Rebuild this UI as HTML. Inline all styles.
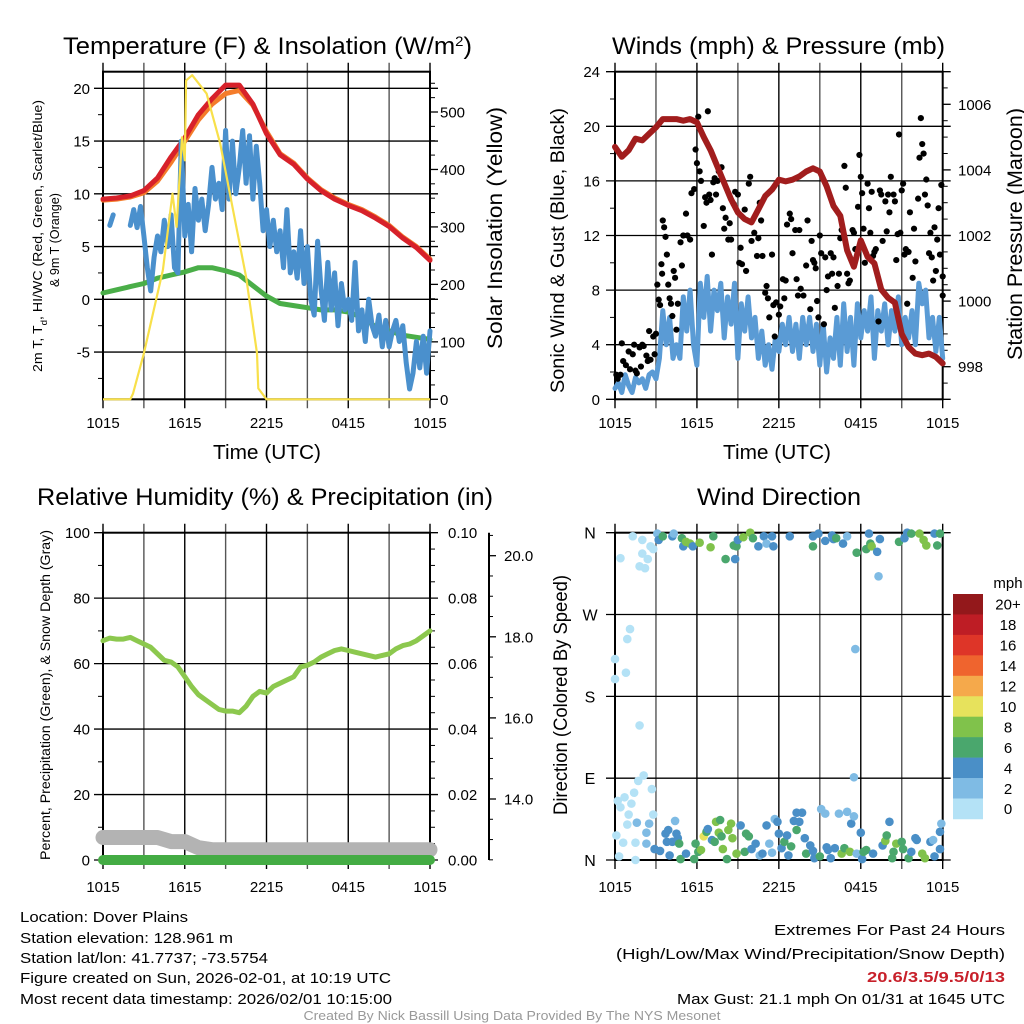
<!DOCTYPE html>
<html><head><meta charset="utf-8"><title>Dover Plains Meteogram</title>
<style>
html,body{margin:0;padding:0;background:#fff;}
svg{display:block;font-family:"Liberation Sans",Arial,sans-serif;}
</style></head>
<body>
<svg id="fig" width="1024" height="1024" viewBox="0 0 1024 1024" xmlns="http://www.w3.org/2000/svg">
<rect x="0" y="0" width="1024" height="1024" fill="#fff"/>
<text x="63" y="54" font-size="24" textLength="409" lengthAdjust="spacingAndGlyphs">Temperature (F) &amp; Insolation (W/m<tspan baseline-shift="super" font-size="14">2</tspan>)</text>
<text x="612" y="54" font-size="24" textLength="333" lengthAdjust="spacingAndGlyphs">Winds (mph) &amp; Pressure (mb)</text>
<text x="37" y="505" font-size="24" textLength="456" lengthAdjust="spacingAndGlyphs">Relative Humidity (%) &amp; Precipitation (in)</text>
<text x="697" y="505" font-size="24" textLength="164" lengthAdjust="spacingAndGlyphs">Wind Direction</text>
<text x="213" y="459" font-size="20" textLength="108" lengthAdjust="spacingAndGlyphs">Time (UTC)</text>
<text x="723" y="459" font-size="20" textLength="108" lengthAdjust="spacingAndGlyphs">Time (UTC)</text>
<text transform="translate(42,372) rotate(-90)" font-size="13" textLength="272" lengthAdjust="spacingAndGlyphs">2m T, T<tspan baseline-shift="sub" font-size="9">d</tspan>, HI/WC (Red, Green, Scarlet/Blue)</text>
<text transform="translate(59,287) rotate(-90)" font-size="13" textLength="94" lengthAdjust="spacingAndGlyphs">&amp; 9m T (Orange)</text>
<text transform="translate(502,349) rotate(-90)" font-size="21" textLength="242" lengthAdjust="spacingAndGlyphs">Solar Insolation (Yellow)</text>
<text transform="translate(564,393) rotate(-90)" font-size="19" textLength="285" lengthAdjust="spacingAndGlyphs">Sonic Wind &amp; Gust (Blue, Black)</text>
<text transform="translate(1022,360) rotate(-90)" font-size="21" textLength="252" lengthAdjust="spacingAndGlyphs">Station Pressure (Maroon)</text>
<text transform="translate(50,860) rotate(-90)" font-size="13.5" textLength="330" lengthAdjust="spacingAndGlyphs">Percent, Precipitation (Green), &amp; Snow Depth (Gray)</text>
<text transform="translate(567,815) rotate(-90)" font-size="19" textLength="240" lengthAdjust="spacingAndGlyphs">Direction (Colored By Speed)</text>
<g font-size="15">
<text x="20" y="922" textLength="168" lengthAdjust="spacingAndGlyphs">Location: Dover Plains</text>
<text x="20" y="943" textLength="213" lengthAdjust="spacingAndGlyphs">Station elevation: 128.961 m</text>
<text x="20" y="963" textLength="248" lengthAdjust="spacingAndGlyphs">Station lat/lon: 41.7737; -73.5754</text>
<text x="20" y="983" textLength="371" lengthAdjust="spacingAndGlyphs">Figure created on Sun, 2026-02-01, at 10:19 UTC</text>
<text x="20" y="1004" textLength="372" lengthAdjust="spacingAndGlyphs">Most recent data timestamp: 2026/02/01 10:15:00</text>
</g>
<g font-size="15" text-anchor="end">
<text x="1005" y="935" textLength="231" lengthAdjust="spacingAndGlyphs">Extremes For Past 24 Hours</text>
<text x="1005" y="959" textLength="389" lengthAdjust="spacingAndGlyphs">(High/Low/Max Wind/Precipitation/Snow Depth)</text>
<text x="1005" y="982" font-weight="bold" fill="#c8202a" textLength="138" lengthAdjust="spacingAndGlyphs">20.6/3.5/9.5/0/13</text>
<text x="1005" y="1004" textLength="328" lengthAdjust="spacingAndGlyphs">Max Gust: 21.1 mph On 01/31 at 1645 UTC</text>
</g>
<text x="512" y="1020" font-size="13" fill="#999" text-anchor="middle" textLength="417" lengthAdjust="spacingAndGlyphs">Created By Nick Bassill Using Data Provided By The NYS Mesonet</text>
<g id="layer"></g>
</svg>
<script>
// ---------- DATA ----------
const hourCats = [0,1,2,3,4,5,6,7,8,9,10,11,12,13,14,15,16,17,18,19,20,21,22,23,24];
const temp2m = [9.5,9.6,9.8,10.3,11.5,13.5,15.3,17.5,19.0,20.3,20.3,18.5,15.7,13.7,12.8,11.4,10.3,9.5,8.9,8.4,7.7,6.9,5.8,4.9,3.7];
const temp9m = [9.4,9.5,9.7,10.1,11.2,13.0,15.0,17.0,18.5,19.5,19.8,18.4,15.9,13.8,12.9,11.5,10.4,9.6,9.0,8.5,7.8,7.0,5.9,5.0,3.8];
const dewpt = [0.6,0.9,1.2,1.5,2.0,2.3,2.6,3.0,3.0,2.7,2.3,1.3,0.3,-0.4,-0.6,-0.8,-1.0,-1.0,-1.2,-1.7,-2.6,-3.0,-3.4,-3.6,-3.8];
const halfHourCats = [0,0.5,1,1.5,2,2.5,3,3.5,4,4.5,5,5.5,6,6.5,7,7.5,8,8.5,9,9.5,10,10.5,11,11.5,12,12.5,13,13.5,14,14.5,15,15.5,16,16.5,17,17.5,18,18.5,19,19.5,20,20.5,21,21.5,22,22.5,23,23.5,24];
const quarterHourCats = [0,0.25,0.5,0.75,1,1.25,1.5,1.75,2,2.25,2.5,2.75,3,3.25,3.5,3.75,4,4.25,4.5,4.75,5,5.25,5.5,5.75,6,6.25,6.5,6.75,7,7.25,7.5,7.75,8,8.25,8.5,8.75,9,9.25,9.5,9.75,10,10.25,10.5,10.75,11,11.25,11.5,11.75,12,12.25,12.5,12.75,13,13.25,13.5,13.75,14,14.25,14.5,14.75,15,15.25,15.5,15.75,16,16.25,16.5,16.75,17,17.25,17.5,17.75,18,18.25,18.5,18.75,19,19.25,19.5,19.75,20,20.25,20.5,20.75,21,21.25,21.5,21.75,22,22.25,22.5,22.75,23,23.25,23.5,23.75,24];
const windChill = [null,null,7.0,8.0,null,null,null,null,7.0,8.5,6.8,8.8,6.0,3.0,0.8,4.0,6.0,4.5,7.5,5.0,8.0,3.0,2.5,15.0,6.0,9.0,4.5,10.5,7.5,9.5,6.5,9.0,12.5,9.5,11.0,8.5,16.0,9.5,15.0,10.0,12.5,16.0,11.0,15.5,9.5,14.5,11.0,6.5,8.5,5.0,7.5,4.5,6.5,3.0,8.5,2.5,4.5,2.0,6.5,1.5,5.0,0.0,-1.5,5.5,1.0,-2.0,3.5,-1.0,2.5,-2.5,1.5,-1.0,0.0,-2.0,3.5,-3.0,-1.0,-4.0,0.0,-2.5,-3.5,-1.5,-4.5,-2.0,-4.5,-3.0,-2.0,-4.0,-2.5,-6.0,-8.5,-7.0,-4.0,-6.5,-3.5,-7.0,-3.0];
const insolTimes = [0,2.0,2.2,3,4.4,5.1,5.4,5.8,6.0,6.1,6.55,7.6,8.6,9.55,10.5,11.3,11.4,12,24];
const insolValues = [0,0,10,80,225,358,300,456,416,555,564,532,445,329,213,80,19,0,0];
const pressure = [1004.7,1004.4,1004.6,1004.95,1004.9,1005.1,1005.3,1005.55,1005.55,1005.55,1005.5,1005.55,1005.45,1005.0,1004.6,1004.1,1003.6,1003.1,1002.7,1002.5,1002.4,1002.8,1003.2,1003.4,1003.7,1003.65,1003.7,1003.8,1003.95,1004.05,1003.95,1003.5,1002.9,1002.6,1001.55,1001.05,1001.85,1001.35,1001.15,1000.35,1000.1,999.95,999.0,998.6,998.4,998.35,998.4,998.3,998.1];
const windSpeed = [0.8,1.2,0.5,1.8,1.0,0.5,1.6,1.2,1.5,0.8,1.8,2.0,1.5,3.0,6.5,4.0,6.0,3.0,4.0,3.0,7.5,5.0,8.0,4.0,2.5,8.5,6.0,9.0,5.0,8.0,6.5,8.5,4.5,7.5,5.5,8.5,3.0,7.0,5.0,7.5,4.5,6.0,3.0,5.0,2.5,4.0,2.2,4.5,3.5,5.5,4.0,6.0,3.5,5.5,3.0,6.0,4.0,6.0,3.5,5.5,2.5,5.5,2.0,4.5,3.0,6.0,2.5,7.0,3.5,6.0,2.5,7.0,4.5,6.5,5.0,7.5,3.0,6.5,5.0,7.0,4.0,6.5,5.0,7.5,4.0,6.0,4.5,6.5,4.0,8.5,7.0,8.0,4.5,6.0,3.5,6.0,3.0];
const gustTimes = [0.1,0.2,0.4,0.5,0.6,0.8,1.0,1.1,1.3,1.4,1.5,1.6,1.8,1.9,2.0,2.1,2.3,2.4,2.5,2.6,2.8,2.9,3.0,3.1,3.2,3.3,3.4,3.45,3.5,3.6,3.7,3.8,3.9,4.0,4.1,4.2,4.3,4.4,4.5,4.6,4.8,4.9,5.0,5.2,5.3,5.5,5.6,5.8,5.9,6.0,6.1,6.2,6.3,6.5,6.6,6.7,6.8,6.9,7.0,7.1,7.2,7.3,7.4,7.5,7.6,7.8,7.9,8.0,8.1,8.3,8.4,8.5,8.7,8.8,9.0,9.1,9.2,9.3,9.5,9.6,9.8,9.9,10.0,10.2,10.4,10.5,10.6,10.7,10.8,11.0,11.1,11.2,11.3,11.5,11.6,11.7,11.8,12.0,12.1,12.3,12.4,12.5,12.6,12.8,12.9,13.0,13.2,13.3,13.4,13.5,13.6,13.8,14.0,14.1,14.3,14.4,14.5,14.6,14.7,14.8,14.9,15.0,15.1,15.3,15.4,15.5,15.6,15.8,15.9,16.0,16.1,16.3,16.4,16.5,16.6,16.8,16.9,17.0,17.1,17.2,17.4,17.5,17.6,17.8,17.9,18.0,18.1,18.2,18.3,18.5,18.6,18.7,18.8,18.9,19.0,19.1,19.3,19.4,19.5,19.6,19.8,19.9,20.0,20.1,20.2,20.4,20.5,20.6,20.7,20.8,20.9,21.0,21.1,21.2,21.3,21.4,21.5,21.6,21.8,21.9,22.0,22.2,22.3,22.4,22.5,22.6,22.7,22.8,22.9,23.0,23.1,23.2,23.3,23.4,23.5,23.6,23.7,23.8,23.9,24.0,24.0];
const gustValues = [1.8,1.5,1.8,4.1,2.8,2.5,3.5,2.2,3.3,4.0,2.1,1.9,3.8,2.4,4.0,3.9,3.2,2.8,5.0,2.9,4.6,3.3,4.8,8.4,7.3,6.9,9.9,9.2,13.1,12.6,11.9,10.6,8.4,7.4,7.0,6.1,9.4,8.9,5.1,7.0,11.5,9.8,12.0,13.6,12.0,11.7,15.1,15.4,18.3,17.3,20.7,16.7,16.0,12.7,14.8,14.4,21.1,15.0,14.6,10.6,15.9,16.2,15.0,16.0,16.7,17.0,14.0,12.5,13.3,11.7,12.9,11.7,14.3,15.2,15.0,10.0,11.1,9.9,13.9,9.4,15.8,16.3,11.6,12.2,10.5,11.8,14.4,13.1,10.5,7.8,8.3,7.4,6.0,10.6,6.9,4.6,7.1,6.2,6.8,8.8,7.4,8.7,12.8,13.6,13.2,10.7,12.4,8.8,7.6,12.4,8.1,7.6,9.8,13.1,6.6,11.6,10.2,10.0,9.6,7.2,6.0,12.0,10.7,5.5,10.4,8.0,9.0,10.7,9.2,10.4,6.7,8.3,9.2,11.8,12.4,17.1,15.5,9.2,8.5,8.7,12.4,12.2,11.0,14.1,17.9,16.3,15.1,12.5,10.0,15.8,14.0,12.2,15.2,10.5,10.8,11.0,5.7,15.3,15.0,11.6,14.5,12.3,15.0,13.7,16.3,15.0,14.5,10.2,12.1,19.4,12.2,15.3,15.8,10.6,11.0,7.0,10.8,13.7,8.9,12.5,10.1,14.7,17.7,20.6,18.7,18.0,15.0,16.1,14.2,10.7,12.2,10.4,8.7,12.6,9.4,11.7,14.0,10.6,15.7,9.0,7.6];
const relHum = [67,67.8,67.5,67.5,68,67,66,65,63,61,60.5,59,56,53,50.5,49,47.5,46,45.5,45.5,45,47,50,51.5,51,53,54,55,56,59,59.5,60.5,62,63,64,64.5,64,63.5,63,62.5,62,62.5,63,64.5,65.5,66,67,68.5,70];
const snowDepth = [13.05,13.05,13.05,13.05,13.05,12.95,12.95,12.8,12.75,12.75,12.75,12.75,12.75,12.75,12.75,12.75,12.75,12.75,12.75,12.75,12.75,12.75,12.75,12.75,12.75];
const precip = [0,0,0,0,0,0,0,0,0,0,0,0,0,0,0,0,0,0,0,0,0,0,0,0,0];
const dirTimes = [1.3,2.0,0.4,2.0,1.8,2.2,2.4,2.6,2.8,0.0,0.0,0.8,0.9,1.1,1.8,2.1,1.7,2.7,0.2,0.7,1.2,1.4,0.4,1.0,1.6,2.5,2.8,0.9,2.3,0.1,0.6,1.5,2.3,0.3,1.5,
3.1,3.2,3.5,4.2,4.3,4.9,5.0,5.2,5.5,5.7,6.2,7.0,7.2,8.1,8.8,8.7,8.9,9.0,9.4,9.9,10.1,10.5,10.9,11.1,11.5,11.6,12.8,14.5,14.5,14.9,15.4,15.9,16.0,16.2,16.7,17.0,17.7,18.4,18.6,18.7,18.8,19.2,19.3,19.4,20.8,21.2,21.4,21.7,22.3,22.6,22.8,23.4,23.6,23.8,
17.6,17.5,
2.9,3.3,3.7,3.9,3.8,4.2,4.4,4.5,4.6,4.7,4.0,4.8,5.2,5.8,5.9,6.1,6.3,6.5,6.7,6.8,7.1,7.3,7.4,7.7,7.6,7.8,7.9,8.2,8.3,8.5,8.6,8.9,9.2,9.5,9.6,9.8,10.0,10.3,10.6,10.8,11.1,11.3,11.5,11.7,11.9,12.0,12.2,12.4,12.6,12.7,12.9,13.1,13.3,13.3,13.5,13.7,13.9,14.0,14.3,14.5,14.6,15.0,15.1,15.4,15.5,15.6,15.8,16.1,16.4,16.6,16.8,17.0,17.2,17.3,17.5,17.7,18.0,18.1,18.2,18.4,18.9,19.6,19.8,19.9,20.1,20.3,20.4,20.6,21.0,21.1,21.5,21.7,22.0,22.1,22.5,22.7,23.1,23.3,23.4,23.8,23.8,23.9];
const dirDegrees = [356,352,332,337,323,321,331,345,342,221,199,206,243,254,148,93,87,78,65,69,62,74,58,50,41,40,50,39,30,27,19,19,18,4,0,
359,352,356,356,359,354,345,350,348,345,349,344,356,331,331,346,345,352,355,360,354,345,356,348,356,345,356,345,356,359,351,357,353,354,348,356,338,342,359,348,345,339,312,353,350,354,360,359,359,352,346,359,346,359,
232,91,
12,10,29,33,20,20,43,29,24,18,5,1,7,1,18,9,11,26,31,34,22,20,42,44,30,26,12,1,33,40,24,7,38,9,29,26,12,18,5,7,38,18,8,45,42,29,13,20,27,5,15,43,52,33,42,52,24,7,16,10,2,4,56,51,14,11,2,13,51,7,13,53,9,40,48,7,30,1,9,11,7,16,21,27,42,2,9,18,20,12,2,9,24,22,7,2,20,22,4,12,31,40];
const dirSpeeds = [1,1,1,1,1,1,1,1,1,1,1,1,1,1,1,1,1,1,1,1,1,1,1,1,3,3,1,1,3,1,1,1,3,1,1,
3,5,7,5,3,7,5,9,9,5,9,9,7,7,5,7,7,5,9,9,7,5,5,3,5,5,5,7,5,5,5,5,5,7,5,3,7,7,5,7,9,5,3,5,7,5,5,7,9,9,9,5,7,7,
3,3,
5,5,5,5,5,5,3,5,5,7,5,7,5,7,7,7,9,11,7,5,5,7,9,7,9,7,9,7,9,9,9,9,5,7,7,7,5,5,3,5,5,3,3,3,5,5,5,7,5,5,7,5,5,7,5,5,5,7,5,5,5,7,3,3,5,5,5,5,3,9,7,3,9,5,3,3,5,5,7,7,5,5,9,7,5,7,7,9,7,7,7,5,5,5,9,9,5,3,5,5,5,3];
const cbLabels = ['0','2','4','6','8','10','12','14','16','18','20+'];
const cbColors = ['#b4e2f6','#7fbbe4','#4a8fc7','#4aa76d','#80c24b','#e7e25c','#f5a94b','#ef642e','#de3528','#be1d25','#93181b'];
const timeTickLabels = ['1015','1615','2215','0415','1015'];
const tempTicks = [-5,0,5,10,15,20];
const insolTicks = [0,100,200,300,400,500];
const windTicks = [0,4,8,12,16,20,24];
const presTicks = [998,1000,1002,1004,1006];
const rhTicks = [0,20,40,60,80,100];
const precTickLabels = ['0.00','0.02','0.04','0.06','0.08','0.10'];
const snowTicks = [14,16,18,20];
const dirTicks = [0,90,180,270,360];
const dirTickLabels = ['N','E','S','W','N'];

// ---------- GEOMETRY ----------
const NS='http://www.w3.org/2000/svg';
const layer=document.getElementById('layer');
function mk(tag,attrs,parent){const e=document.createElementNS(NS,tag);for(const k in attrs)e.setAttribute(k,attrs[k]);(parent||layer).appendChild(e);return e;}
const L={x0:103,x1:430}, R={x0:615,x1:942.7};
const yTop=71.7,yBot=399.3,yTop2=532.7,yBot2=860;
const xL=h=>L.x0+h/24*(L.x1-L.x0);
const xR=h=>R.x0+h/24*(R.x1-R.x0);
const yTemp=v=>299.3-v*10.55;
const yIns=w=>yBot-w*0.5746;
const yWind=v=>yBot-v*(yBot-yTop)/24;
const yPres=p=>366.7-(p-998)*32.8;
const yRH=v=>yBot2-v*(yBot2-yTop2)/100;
const yPrec=v=>yBot2-v*(yBot2-yTop2)/0.1;
const ySnow=v=>555.7+(20-v)*40.55;
const yDir=d=>yBot2-d/360*(yBot2-yTop2);

function linePath(xs,ys,xf,yf){let d='',pen=false;for(let i=0;i<xs.length;i++){if(ys[i]===null||ys[i]===undefined){pen=false;continue;}const X=xf(xs[i]).toFixed(1),Y=yf(ys[i]).toFixed(1);if(!pen){d+='M'+X+' '+Y+' L'+X+' '+Y+' ';pen=true;}else d+='L'+X+' '+Y+' ';}return d;}

function frame(x0,x1,t,b,name){
  const g=mk('g',{});
  
  
  for(let i=0;i<=8;i++){const x=x0+i*(x1-x0)/8;
    const ln=mk('line',{x1:x,x2:x,y1:t-9,y2:b+9,stroke:(i%2?'#555':'#000'),'stroke-width':1.4},g);
    
    
  }
  return g;
}
function hgrid(g,x0,x1,y){const ln=mk('line',{x1:x0-9,x2:x1+8,y1:y,y2:y,stroke:'#000','stroke-width':1.3},g);
  
  }
function label(txt,x,y,anchor,size,name){const t=mk('text',{x:x,y:y,'text-anchor':anchor,'font-size':size||15,fill:'#000'});t.textContent=txt;
  
  return t;}
function minor(x,y,len){mk('line',{x1:x,x2:x+len,y1:y,y2:y,stroke:'#000','stroke-width':1});}
function xLabels(x0,x1,y,name){for(let i=0;i<timeTickLabels.length;i++){label(timeTickLabels[i],x0+i*(x1-x0)/4,y,'middle',15,name);}}

// ===== Panel 1: temperature =====
const g1=frame(L.x0,L.x1,yTop,yBot,'temperature');
tempTicks.forEach(v=>{hgrid(g1,L.x0,L.x1,yTemp(v));label(String(v),90,yTemp(v)+5.5,'end',15,'temp-tick-label');});
for(let v=-7.5;v<=20;v+=5){minor(L.x0-5,yTemp(v),5);}
insolTicks.forEach(w=>{mk('line',{x1:L.x1,x2:L.x1+8,y1:yIns(w),y2:yIns(w),stroke:'#000','stroke-width':1.3});label(String(w),440,yIns(w)+5.5,'start',15,'insolation-tick-label');});
for(let w=25;w<=560;w+=25){if(w%100)minor(L.x1,yIns(w),5);}
mk('rect',{x:L.x0,y:yTop,width:L.x1-L.x0,height:yBot-yTop,fill:'none',stroke:'#000','stroke-width':2});
xLabels(L.x0,L.x1,428,'temp-x-tick-label');
let p;
p=mk('path',{d:linePath(hourCats,temp9m,xL,yTemp),fill:'none',stroke:'#f47c2b','stroke-width':5,'stroke-linecap':'round','stroke-linejoin':'round'});


p=mk('path',{d:linePath(hourCats,temp2m,xL,yTemp),fill:'none',stroke:'#d7212a','stroke-width':5,'stroke-linecap':'round','stroke-linejoin':'round'});


p=mk('path',{d:linePath(hourCats,dewpt,xL,yTemp),fill:'none',stroke:'#4aae48','stroke-width':5,'stroke-linecap':'round','stroke-linejoin':'round'});


p=mk('path',{d:linePath(quarterHourCats,windChill,xL,yTemp),fill:'none',stroke:'#4a90cd','stroke-width':5,'stroke-linecap':'round','stroke-linejoin':'round'});


p=mk('path',{d:linePath(insolTimes,insolValues,xL,yIns),fill:'none',stroke:'#f8e04a','stroke-width':2.2,'stroke-linejoin':'round'});



// ===== Panel 2: winds =====
const g2=frame(R.x0,R.x1,yTop,yBot,'winds');
windTicks.forEach(v=>{hgrid(g2,R.x0,R.x1,yWind(v));label(String(v),600,yWind(v)+5.5,'end',15,'wind-tick-label');});
for(let v=2;v<24;v+=4){minor(R.x0-5,yWind(v),5);}
presTicks.forEach(v=>{mk('line',{x1:R.x1,x2:R.x1+8,y1:yPres(v),y2:yPres(v),stroke:'#000','stroke-width':1.3});label(String(v),958,yPres(v)+5.5,'start',15,'pressure-tick-label');});
for(let v=997.5;v<=1006.8;v+=0.5){if(Math.abs(v%2)>0.01)minor(R.x1,yPres(v),5);}
mk('rect',{x:R.x0,y:yTop,width:R.x1-R.x0,height:yBot-yTop,fill:'none',stroke:'#000','stroke-width':2});
xLabels(R.x0,R.x1,428,'wind-x-tick-label');
p=mk('path',{d:linePath(quarterHourCats,windSpeed,xR,yWind),fill:'none',stroke:'#5a9bd5','stroke-width':5,'stroke-linecap':'round','stroke-linejoin':'round'});


gustTimes.forEach((h,i)=>{const c=mk('circle',{cx:xR(h),cy:yWind(gustValues[i]),r:3.1,fill:'#000'});
  
  });
p=mk('path',{d:linePath(halfHourCats,pressure,xR,yPres),fill:'none',stroke:'#a11d1d','stroke-width':6,'stroke-linecap':'round','stroke-linejoin':'round'});



// ===== Panel 3: RH =====
const g3=frame(L.x0,L.x1,yTop2,yBot2,'humidity');
rhTicks.forEach((v,i)=>{hgrid(g3,L.x0,L.x1,yRH(v));label(String(v),90,yRH(v)+5.5,'end',15,'rh-tick-label');label(precTickLabels[i],448,yRH(v)+5.5,'start',15,'precip-tick-label');});
for(let v=10;v<100;v+=20){minor(L.x0-5,yRH(v),5);}
for(let v=5;v<100;v+=5){if(v%20)minor(L.x1,yRH(v),5);}
mk('rect',{x:L.x0,y:yTop2,width:L.x1-L.x0,height:yBot2-yTop2,fill:'none',stroke:'#000','stroke-width':2});
const sa=mk('line',{x1:489,x2:489,y1:yTop2,y2:yBot2,stroke:'#000','stroke-width':2});


snowTicks.forEach(v=>{mk('line',{x1:489,x2:496,y1:ySnow(v),y2:ySnow(v),stroke:'#000','stroke-width':1.3});label(v.toFixed(1),504,ySnow(v)+5.5,'start',15,'snow-tick-label');});
for(let v=12.5;v<=20.5;v+=0.5){if(v%2)minor(489,ySnow(v),4);}
xLabels(L.x0,L.x1,892,'rh-x-tick-label');
p=mk('path',{d:linePath(hourCats,snowDepth,xL,ySnow),fill:'none',stroke:'#b3b3b3','stroke-width':15,'stroke-linecap':'round','stroke-linejoin':'round'});


p=mk('path',{d:linePath(hourCats,precip,xL,yPrec),fill:'none',stroke:'#44ac44','stroke-width':10,'stroke-linecap':'round'});


p=mk('path',{d:linePath(halfHourCats,relHum,xL,yRH),fill:'none',stroke:'#8cc84e','stroke-width':5,'stroke-linecap':'round','stroke-linejoin':'round'});



// ===== Panel 4: wind direction =====
const g4=frame(R.x0,R.x1,yTop2,yBot2,'direction');
dirTicks.forEach((d,i)=>{hgrid(g4,R.x0,R.x1,yDir(d));label(dirTickLabels[i],590,yDir(d)+6,'middle',16,'direction-tick-label');});
mk('rect',{x:R.x0,y:yTop2,width:R.x1-R.x0,height:yBot2-yTop2,fill:'none',stroke:'#000','stroke-width':2});
xLabels(R.x0,R.x1,892,'direction-x-tick-label');
dirTimes.forEach((h,i)=>{const s=dirSpeeds[i];const idx=Math.min(10,Math.floor(s/2));
  const c=mk('circle',{cx:xR(h),cy:yDir(dirDegrees[i]),r:4.3,fill:cbColors[idx]});
  
  });
const cbTop=594,cbH=20.45;
label('mph',1008,588,'middle',15,'colorbar-unit-label');
for(let i=0;i<cbLabels.length;i++){const k=cbLabels.length-1-i;const y=cbTop+i*cbH;
  const r=mk('rect',{x:953,y:y,width:30,height:cbH+0.3,fill:cbColors[k]});
  
  
  label(cbLabels[k],1008,y+cbH/2+5.5,'middle',15,'colorbar-label');}
</script>
</body></html>
